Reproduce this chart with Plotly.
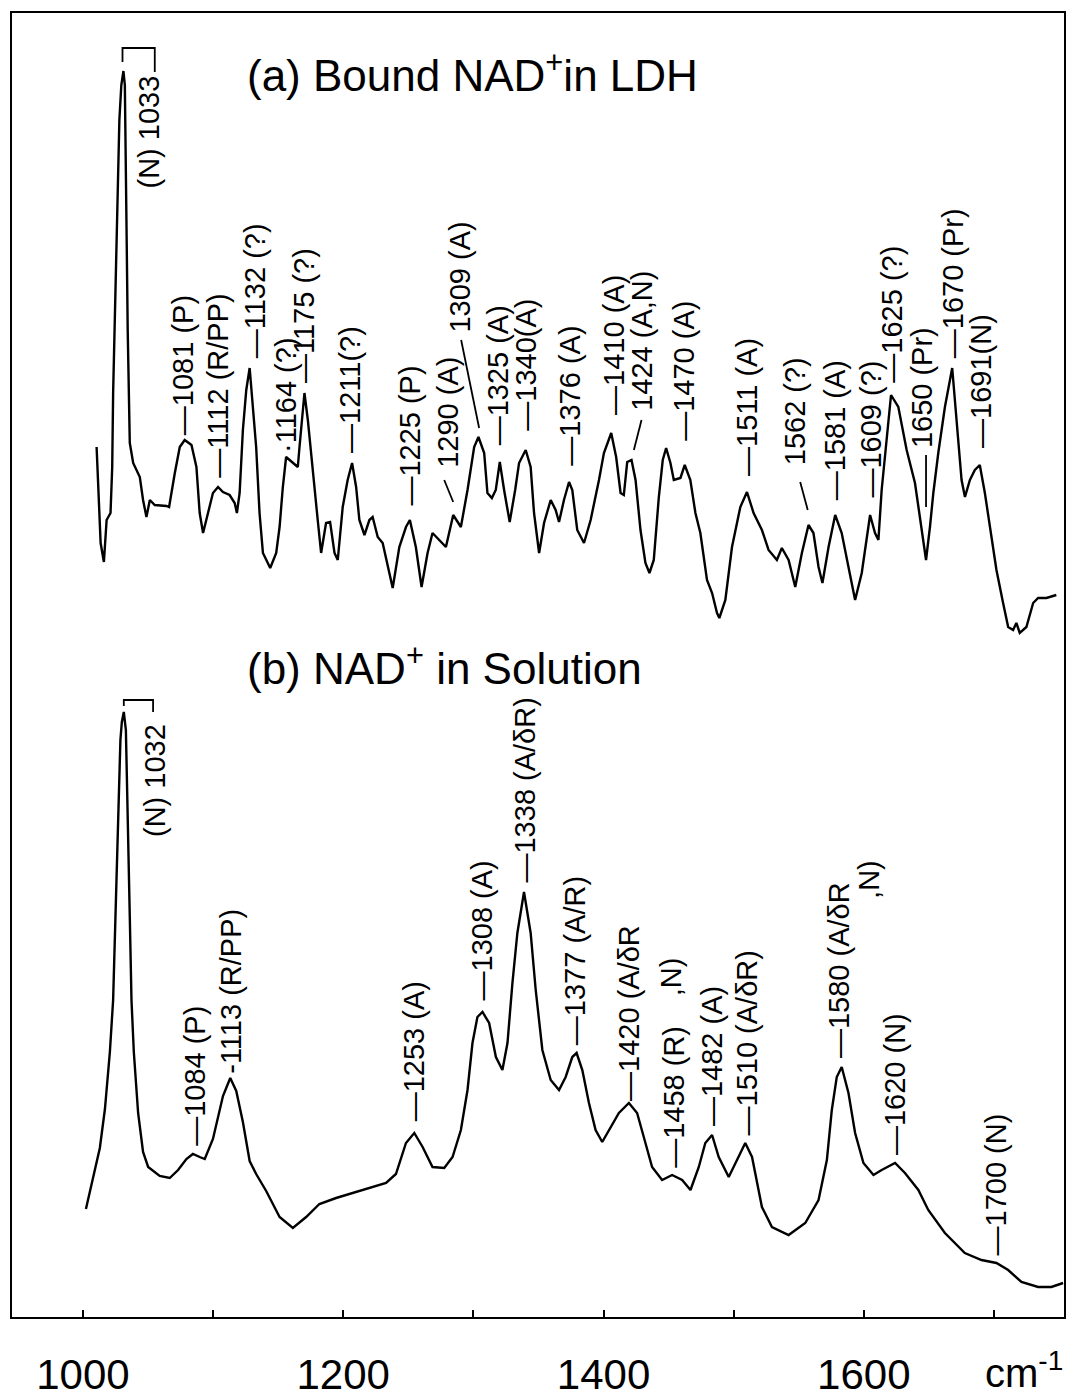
import plotly.graph_objects as go

# Raman spectrum (a): NAD+ bound in LDH  (wavenumber cm-1, intensity a.u.)
wn_a = [1010.5, 1012.5, 1013.6, 1016.1, 1018.2, 1021.2, 1022.5, 1023.2, 1024.9, 1026.5,
        1028.0, 1029.5, 1031.1, 1032.2, 1033.0, 1033.7, 1034.4, 1034.9, 1036.0, 1038.6,
        1043.7, 1046.2, 1048.8, 1051.4, 1055.2, 1064.2, 1066.2, 1070.6, 1074.4, 1078.2,
        1083.4, 1087.2, 1089.7, 1092.3, 1096.1, 1099.9, 1103.8, 1107.6, 1112.7, 1116.6,
        1118.3, 1120.4, 1122.9, 1125.5, 1128.1, 1129.4, 1133.1, 1135.7, 1138.3, 1143.9,
        1148.5, 1151.1, 1153.6, 1156.1, 1161.3, 1165.1, 1166.4, 1170.2, 1172.8, 1176.6,
        1180.4, 1183.0, 1186.8, 1189.9, 1193.3, 1195.8, 1199.6, 1203.4, 1206.8, 1209.9,
        1212.4, 1216.3, 1220.1, 1222.6, 1226.5, 1230.3, 1234.1, 1238.0, 1243.1, 1248.2,
        1251.2, 1255.8, 1260.2, 1264.8, 1268.6, 1273.8, 1278.9, 1284.5, 1290.4, 1295.5,
        1300.6, 1303.9, 1308.3, 1310.8, 1314.2, 1317.2, 1320.3, 1323.6, 1327.9, 1332.1,
        1335.1, 1340.2, 1344.0, 1346.6, 1350.5, 1354.3, 1359.4, 1363.2, 1365.8, 1369.6,
        1373.5, 1376.0, 1379.8, 1385.0, 1390.1, 1396.5, 1400.3, 1405.9, 1409.7, 1413.1,
        1415.6, 1418.2, 1421.5, 1424.6, 1428.4, 1432.2, 1435.3, 1438.6, 1442.5, 1445.5,
        1448.1, 1451.4, 1454.0, 1459.1, 1462.4, 1466.7, 1470.6, 1474.4, 1479.5, 1483.4,
        1487.2, 1489.0, 1493.6, 1498.7, 1505.1, 1510.2, 1515.3, 1521.7, 1526.8, 1533.2,
        1537.0, 1542.2, 1547.3, 1552.4, 1557.5, 1561.3, 1565.2, 1568.2, 1572.9, 1578.0,
        1583.0, 1588.2, 1593.3, 1598.4, 1602.2, 1604.8, 1608.6, 1611.2, 1613.7, 1617.5,
        1620.9, 1626.5, 1632.9, 1639.3, 1644.4, 1647.8, 1650.8, 1653.4, 1657.2, 1662.3,
        1667.9, 1671.2, 1675.1, 1677.7, 1681.5, 1685.3, 1689.1, 1693.0, 1698.0, 1701.9,
        1707.0, 1710.9, 1714.7, 1717.2, 1719.8, 1724.9, 1730.1, 1733.9, 1740.3, 1747.9]
int_a = [870, 810, 774, 755, 797, 804, 850, 924, 1017, 1117,
         1197, 1232, 1246, 1232, 1167, 1067, 987, 937, 874, 854,
         840, 817, 800, 817, 812, 811, 810, 844, 870, 877,
         872, 850, 804, 784, 804, 824, 830, 825, 822, 814,
         804, 824, 887, 927, 949, 930, 870, 804, 764, 749,
         764, 790, 830, 860, 854, 850, 870, 924, 897, 844,
         797, 764, 794, 795, 764, 757, 810, 837, 854, 830,
         797, 782, 797, 800, 780, 774, 750, 729, 770, 790,
         797, 770, 730, 764, 784, 777, 770, 802, 790, 827,
         870, 880, 864, 824, 819, 827, 855, 827, 795, 827,
         854, 867, 850, 804, 764, 794, 817, 807, 795, 817,
         835, 827, 787, 774, 797, 837, 864, 884, 860, 824,
         822, 855, 857, 837, 787, 754, 744, 757, 820, 857,
         869, 854, 837, 839, 852, 837, 804, 784, 737, 724,
         704, 699, 717, 770, 810, 825, 804, 787, 767, 757,
         769, 757, 730, 764, 792, 784, 750, 734, 770, 802,
         784, 750, 717, 744, 777, 802, 784, 777, 827, 877,
         922, 910, 867, 834, 790, 757, 790, 824, 864, 910,
         949, 894, 837, 820, 837, 847, 852, 824, 780, 747,
         714, 690, 687, 694, 684, 690, 714, 719, 719, 722]

# Raman spectrum (b): NAD+ in solution
wn_b = [1002.3, 1007.9, 1013.0, 1016.9, 1020.7, 1023.2, 1025.8, 1027.8, 1028.8, 1029.9,
        1031.4, 1033.0, 1034.7, 1036.0, 1037.3, 1039.1, 1042.4, 1046.2, 1050.1, 1059.0,
        1066.7, 1073.1, 1079.5, 1084.5, 1089.7, 1093.6, 1099.9, 1107.6, 1113.2, 1117.8,
        1122.9, 1128.1, 1133.1, 1140.8, 1151.1, 1161.3, 1171.5, 1181.7, 1194.5, 1207.3,
        1220.1, 1232.9, 1240.5, 1248.2, 1254.6, 1261.0, 1268.6, 1277.6, 1284.0, 1290.4,
        1295.5, 1299.3, 1303.1, 1307.0, 1312.1, 1317.3, 1322.3, 1326.2, 1330.0, 1333.8,
        1338.9, 1344.0, 1347.9, 1353.0, 1359.4, 1365.8, 1370.9, 1376.0, 1379.3, 1383.7,
        1388.8, 1393.9, 1399.0, 1404.1, 1411.8, 1419.5, 1425.8, 1432.2, 1437.3, 1445.0,
        1452.7, 1460.4, 1466.8, 1473.2, 1478.2, 1483.4, 1488.5, 1496.2, 1502.5, 1508.9,
        1514.1, 1519.2, 1521.7, 1529.4, 1542.2, 1555.0, 1565.2, 1571.6, 1575.4, 1579.2,
        1583.0, 1588.2, 1593.3, 1599.7, 1607.4, 1613.7, 1624.0, 1631.6, 1641.9, 1649.5,
        1662.3, 1677.6, 1690.4, 1701.9, 1710.9, 1721.1, 1733.9, 1744.1, 1753.1]
int_b = [108, 139, 169, 208, 265, 317, 444, 524, 577, 595,
         605, 587, 494, 400, 317, 265, 204, 165, 150, 141,
         139, 147, 158, 163, 160, 158, 178, 221, 239, 226,
         195, 156, 143, 126, 100, 89, 100, 113, 119, 124,
         129, 134, 143, 174, 184, 170, 150, 149, 160, 187,
         227, 274, 300, 305, 294, 260, 247, 274, 334, 384,
         425, 384, 327, 267, 237, 227, 240, 260, 264, 247,
         214, 187, 175, 187, 204, 214, 204, 174, 150, 137,
         142, 137, 127, 150, 174, 182, 160, 140, 157, 174,
         160, 124, 110, 90, 82, 94, 117, 157, 207, 240,
         250, 224, 184, 154, 142, 147, 154, 144, 127, 107,
         84, 64, 57, 54, 47, 35, 30, 30, 34]

# Band assignments: (text, wavenumber, lower end of the label)
labels_a = [("—1081 (P)", 1077.0, 880), ("—1112 (R/PP)", 1103.5, 837),
            ("—1132 (?)", 1132.0, 957), ("·1164 (?)", 1156.0, 862),
            ("—1175 (?)", 1169.5, 932), ("—1211(?)", 1204.8, 862),
            ("—1225 (P)", 1251.0, 809), ("1290 (A)", 1280.0, 847),
            ("1309 (A)", 1289.0, 982), ("—1325 (A)", 1319.2, 870),
            ("—1340(A)", 1340.2, 884), ("—1376 (A)", 1374.0, 849),
            ("—1410 (A)", 1408.0, 900), ("1424 (A,N)", 1429.4, 904),
            ("—1470 (A)", 1461.7, 874), ("—1511 (A)", 1510.2, 839),
            ("1562 (?)", 1547.3, 850), ("—1581 (A)", 1578.0, 815),
            ("—1609 (?)", 1604.8, 817), ("—1625 (?)", 1621.0, 932),
            ("1650 (Pr)", 1644.4, 867), ("—1670 (Pr)", 1668.7, 957),
            ("—1691(N)", 1690.0, 867)]
labels_b = [("—1084 (P)", 1086.0, 169), ("-1113 (R/PP)", 1113.2, 241),
            ("—1253 (A)", 1254.6, 194), ("—1308 (A)", 1307.0, 315),
            ("—1338 (A/δR)", 1338.9, 432), ("—1377 (A/R)", 1377.8, 270),
            ("—1420 (A/δR", 1419.5, 214), ("—1458 (R)", 1454.0, 147),
            ("—1482 (A)", 1483.4, 189), ("—1510 (A/δR)", 1510.2, 180),
            ("—1580 (A/δR", 1581.0, 257), ("—1620 (N)", 1624.0, 160),
            ("—1700 (N)", 1701.9, 60)]
# labels hanging from their upper end
labels_top = [("(N) 1033", 1050.0, 1243), ("(N) 1032", 1055.0, 595),
              (",N)", 1451.7, 362), (",N)", 1603.5, 459)]

# leader strokes (x0, y0, x1, y1) and the brackets over the 1032/1033 bands
leaders = [(1277.6, 837, 1284.5, 815), (1290.6, 977, 1304.4, 889),
           (1429.2, 897, 1423.3, 867), (1551.1, 835, 1556.9, 807),
           (1647.8, 862, 1647.8, 810)]
brackets = [([1030.4, 1030.4, 1055.2, 1055.2], [1255, 1269, 1269, 1245]),
            ([1031.4, 1031.4, 1053.9, 1053.9], [611, 617, 617, 605])]

tick_vals = [1000, 1200, 1400, 1600]
tick_text = ["1000", "1200", "1400", "1600"]
minor_vals = [1000, 1100, 1200, 1300, 1400, 1500, 1600, 1700]
unit_text = "cm<sup>-1</sup>"

FONT = "Liberation Sans, Arial, Helvetica, sans-serif"

fig = go.Figure()
line = dict(color="black", width=2.4)
fig.add_trace(go.Scatter(x=wn_a, y=int_a, mode="lines", line=line, hoverinfo="skip"))
fig.add_trace(go.Scatter(x=wn_b, y=int_b, mode="lines", line=line, hoverinfo="skip"))
for bx, by in brackets:
    fig.add_trace(go.Scatter(x=bx, y=by, mode="lines", line=dict(color="black", width=1.8),
                             hoverinfo="skip"))

for x0, y0, x1, y1 in leaders:
    fig.add_shape(type="line", xref="x", yref="y", x0=x0, y0=y0, x1=x1, y1=y1,
                  line=dict(color="black", width=1.8))

lab_font = dict(family=FONT, size=29, color="black")
for txt, x, y in labels_a + labels_b:
    fig.add_annotation(x=x, y=y, text=txt, textangle=-90, showarrow=False,
                       xanchor="center", yanchor="bottom", font=lab_font)
for txt, x, y in labels_top:
    fig.add_annotation(x=x, y=y, text=txt, textangle=-90, showarrow=False,
                       xanchor="center", yanchor="top", font=lab_font)

title_font = dict(family=FONT, size=44, color="black")
fig.add_annotation(x=1124.2, y=1245, text="(a) Bound NAD<sup>+</sup>in LDH", showarrow=False,
                   xanchor="left", yanchor="middle", font=title_font)
fig.add_annotation(x=1124.2, y=652, text="(b) NAD<sup>+</sup> in Solution", showarrow=False,
                   xanchor="left", yanchor="middle", font=title_font)

# unit label at the right end of the wavenumber axis
fig.add_annotation(x=1691.5, xref="x", y=-0.041, yref="paper", text=unit_text,
                   showarrow=False, xanchor="left", yanchor="middle",
                   font=dict(family=FONT, size=40, color="black"))

fig.update_layout(
    width=1068, height=1400,
    margin=dict(l=12, r=2, t=13, b=83),
    paper_bgcolor="white", plot_bgcolor="white",
    showlegend=False,
    xaxis=dict(range=[945.5, 1753.8], showgrid=False, zeroline=False,
               showline=True, mirror=True, linecolor="black", linewidth=2,
               tickmode="array", tickvals=tick_vals, ticktext=tick_text, ticks="",
               ticklabelstandoff=20,
               tickfont=dict(family=FONT, size=42, color="black"),
               minor=dict(tickmode="array", tickvals=minor_vals, ticks="inside",
                          ticklen=7, tickwidth=1.5, tickcolor="black", showgrid=False)),
    yaxis=dict(range=[0, 1304], showgrid=False, zeroline=False, showticklabels=False,
               showline=True, mirror=True, linecolor="black", linewidth=2, ticks=""),
)

fig.write_html("out.html")
